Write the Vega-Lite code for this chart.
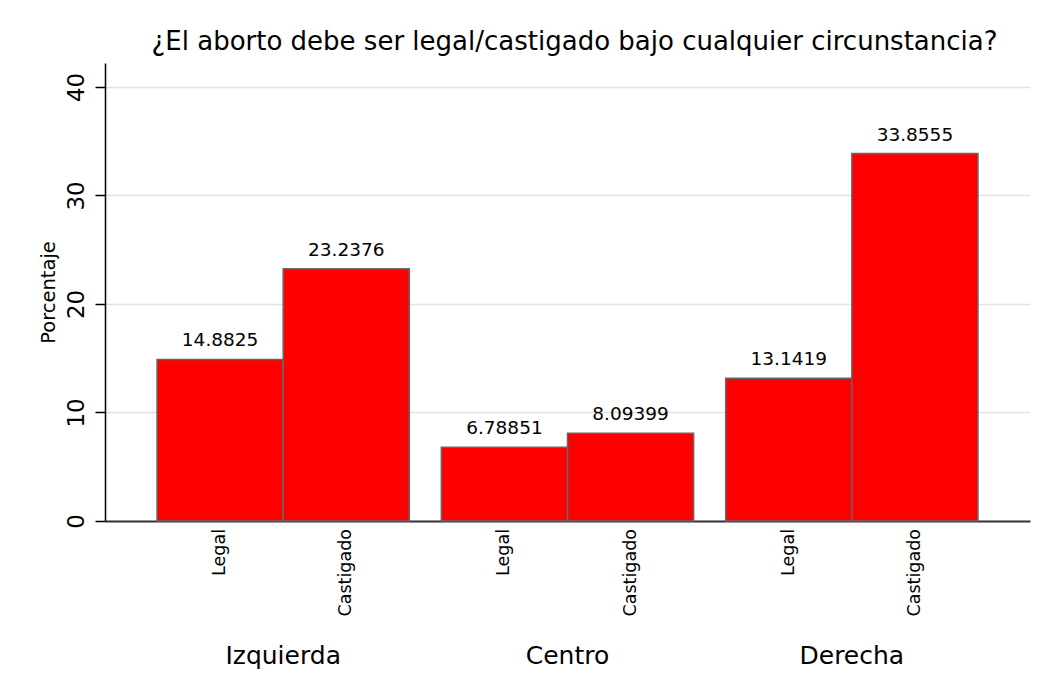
{
  "$schema": "https://vega.github.io/schema/vega-lite/v6.json",
  "autosize": "none",
  "width": 925,
  "height": 458,
  "padding": {"left": 105, "top": 63, "right": 25, "bottom": 175},
  "background": "white",
  "title": {
    "text": "¿El aborto debe ser legal/castigado bajo cualquier circunstancia?",
    "font": "DejaVu Sans",
    "fontSize": 26,
    "fontWeight": "normal",
    "color": "black",
    "anchor": "middle",
    "dx": 7,
    "offset": 8
  },
  "data": {
    "values": [
      {"grupo": "Izquierda", "tipo": "Legal", "porcentaje": 14.8825},
      {"grupo": "Izquierda", "tipo": "Castigado", "porcentaje": 23.2376},
      {"grupo": "Centro", "tipo": "Legal", "porcentaje": 6.78851},
      {"grupo": "Centro", "tipo": "Castigado", "porcentaje": 8.09399},
      {"grupo": "Derecha", "tipo": "Legal", "porcentaje": 13.1419},
      {"grupo": "Derecha", "tipo": "Castigado", "porcentaje": 33.8555}
    ]
  },
  "encoding": {
    "x": {
      "field": "grupo",
      "type": "nominal",
      "sort": ["Izquierda", "Centro", "Derecha"],
      "scale": {"paddingInner": 0.1127, "paddingOuter": 0.183},
      "axis": {
        "title": null,
        "labelAngle": 0,
        "labelFont": "DejaVu Sans",
        "labelFontSize": 25,
        "labelColor": "black",
        "labelPadding": 122,
        "ticks": false,
        "domainColor": "#333333",
        "domainWidth": 2,
        "grid": false
      }
    },
    "xOffset": {
      "field": "tipo",
      "type": "nominal",
      "sort": ["Legal", "Castigado"],
      "scale": {"paddingInner": 0, "paddingOuter": 0}
    }
  },
  "layer": [
    {
      "mark": {"type": "bar", "fill": "#ff0000", "stroke": "#666666", "strokeWidth": 1.5},
      "encoding": {
        "y": {
          "field": "porcentaje",
          "type": "quantitative",
          "scale": {"domain": [0, 42.2], "nice": false, "zero": true},
          "axis": {
            "title": "Porcentaje",
            "titleFont": "DejaVu Sans",
            "titleFontSize": 19.5,
            "titleFontWeight": "normal",
            "titleColor": "black",
            "titlePadding": 7,
            "values": [0, 10, 20, 30, 40],
            "labelAngle": -90,
            "labelAlign": "center",
            "labelBaseline": "bottom",
            "labelFont": "DejaVu Sans",
            "labelFontSize": 23,
            "labelColor": "black",
            "labelPadding": 7,
            "tickSize": 10,
            "tickColor": "black",
            "tickWidth": 1.5,
            "domainColor": "black",
            "domainWidth": 1.5,
            "gridColor": "#e3e3e3",
            "gridWidth": 1.5
          }
        }
      }
    },
    {
      "mark": {"type": "text", "font": "DejaVu Sans", "fontSize": 18.5, "color": "black", "baseline": "alphabetic", "dy": -13},
      "encoding": {
        "y": {"field": "porcentaje", "type": "quantitative"},
        "text": {"field": "porcentaje", "type": "nominal"}
      }
    },
    {
      "mark": {"type": "text", "font": "DejaVu Sans", "fontSize": 17.5, "color": "black", "angle": 270, "align": "right", "baseline": "middle", "dx": -8},
      "encoding": {
        "y": {"datum": 0, "type": "quantitative"},
        "text": {"field": "tipo", "type": "nominal"}
      }
    }
  ],
  "config": {
    "view": {"stroke": null}
  }
}
